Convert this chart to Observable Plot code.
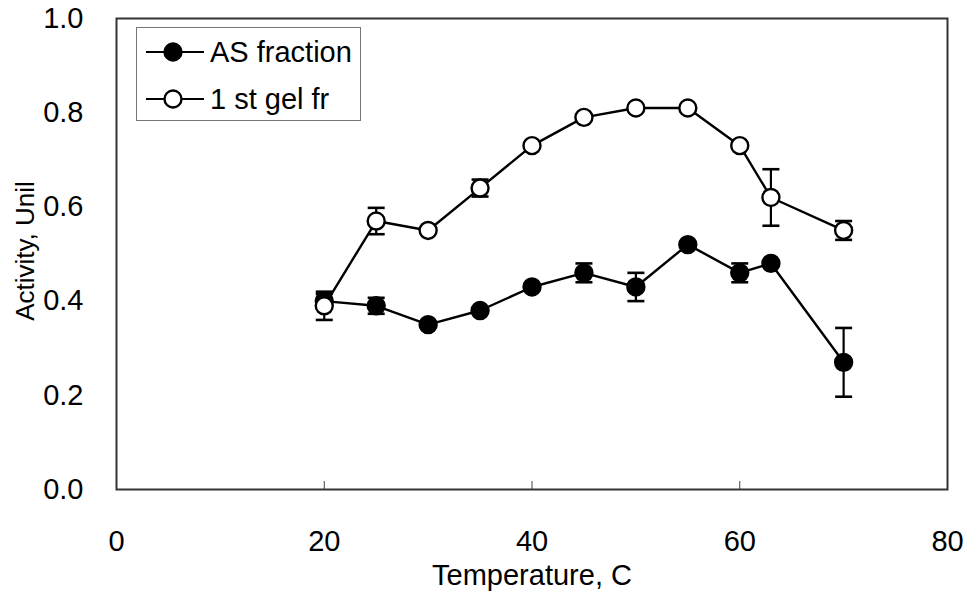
<!DOCTYPE html>
<html>
<head>
<meta charset="utf-8">
<script src="https://cdn.jsdelivr.net/npm/d3@7"></script>
<script src="https://cdn.jsdelivr.net/npm/@observablehq/plot@0.6"></script>
<style>
  body { margin: 0; background: #fff; }
  #wrap { position: relative; width: 968px; height: 591px; font-family: "Liberation Sans", Arial, sans-serif; }
  #legend { position: absolute; left: 136px; top: 27px; }
</style>
</head>
<body>
<div id="wrap"></div>
<script>
// Temperature (°C) at which activity was measured
const temps = [20, 25, 30, 35, 40, 45, 50, 55, 60, 63, 70];

// Ammonium sulfate fraction: mean activity and error
const asMean = [0.40, 0.39, 0.35, 0.38, 0.43, 0.46, 0.43, 0.52, 0.46, 0.48, 0.27];
const asErr  = [0.015, 0.017, 0, 0, 0, 0.02, 0.03, 0, 0.02, 0, 0.073];

// First gel-filtration fraction: mean activity and error
const gelMean = [0.39, 0.57, 0.55, 0.64, 0.73, 0.79, 0.81, 0.81, 0.73, 0.62, 0.55];
const gelErr  = [0.03, 0.028, 0, 0.018, 0, 0, 0, 0, 0, 0.06, 0.02];

const seriesNames = ["AS fraction", "1 st gel fr"];
const xTicks = [0, 20, 40, 60, 80];
const yTicks = [0, 0.2, 0.4, 0.6, 0.8, 1.0];

const asRows = temps.map((t, i) => ({t, v: asMean[i], e: asErr[i]}));
const gelRows = temps.map((t, i) => ({t, v: gelMean[i], e: gelErr[i]}));

// horizontal cap used at the ends of the error bars
const capSymbol = {
  draw(context, size) {
    const w = Math.sqrt(size / Math.PI);
    context.moveTo(-w, 0);
    context.lineTo(w, 0);
  }
};

function seriesMarks(rows, fill) {
  const withErr = rows.filter(d => d.e > 0);
  return [
    Plot.ruleX(withErr, {x: "t", y1: d => d.v - d.e, y2: d => d.v + d.e, stroke: "#000", strokeWidth: 2.2}),
    Plot.dot(withErr, {x: "t", y: d => d.v + d.e, symbol: capSymbol, r: 8.5, stroke: "#000", strokeWidth: 2.6}),
    Plot.dot(withErr, {x: "t", y: d => d.v - d.e, symbol: capSymbol, r: 8.5, stroke: "#000", strokeWidth: 2.6}),
    Plot.line(rows, {x: "t", y: "v", stroke: "#000", strokeWidth: 2.4}),
    Plot.dot(rows, {x: "t", y: "v", r: 8.5, fill, stroke: "#000", strokeWidth: 2.4})
  ];
}

const font = "'Liberation Sans', Arial, sans-serif";

const chart = Plot.plot({
  width: 968,
  height: 591,
  marginLeft: 116,
  marginRight: 21,
  marginTop: 18,
  marginBottom: 102,
  style: {fontFamily: font, fontSize: "29px", color: "#000", background: "#fff"},
  x: {domain: [0, 80]},
  y: {domain: [0, 1]},
  marks: [
    Plot.axisY({ticks: yTicks, tickFormat: d3.format(".1f"), tickSize: 0, tickPadding: 33, label: null, fontSize: 29}),
    Plot.axisX({ticks: xTicks, tickFormat: d3.format("d"), tickSize: 0, tickPadding: 41, label: null, fontSize: 29}),
    Plot.axisX({ticks: xTicks.slice(1, -1), tickSize: -8, tickFormat: () => "", label: null, stroke: "#444"}),
    Plot.frame({stroke: "#333", strokeWidth: 2}),
    Plot.text(["Temperature, C"], {frameAnchor: "bottom", dy: 86, lineAnchor: "middle", fontSize: 29}),
    Plot.text(["Activity, Unil"], {frameAnchor: "left", dx: -91, dy: -3, rotate: -90, textAnchor: "middle", lineAnchor: "middle", fontSize: 26}),
    ...seriesMarks(asRows, "#000"),
    ...seriesMarks(gelRows, "#fff")
  ]
});

const wrap = document.getElementById("wrap");
wrap.appendChild(chart);

// legend box in the upper-left corner of the plot area
const legend = d3.select(wrap).append("svg")
  .attr("id", "legend")
  .attr("width", 226)
  .attr("height", 95);
legend.append("rect")
  .attr("x", 0.5).attr("y", 0.5).attr("width", 224).attr("height", 93)
  .attr("fill", "#fff").attr("stroke", "#777").attr("stroke-width", 1);
const fills = ["#000", "#fff"];
seriesNames.forEach((name, i) => {
  const g = legend.append("g").attr("transform", `translate(0,${25 + i * 47})`);
  g.append("line").attr("x1", 10).attr("x2", 68).attr("stroke", "#000").attr("stroke-width", 2.2);
  g.append("circle").attr("cx", 37).attr("r", 8.5).attr("fill", fills[i]).attr("stroke", "#000").attr("stroke-width", 2.4);
  g.append("text").attr("x", 74).attr("dy", "0.35em")
    .attr("font-family", font)
    .attr("font-size", 29).attr("fill", "#000").text(name);
});
</script>
</body>
</html>
